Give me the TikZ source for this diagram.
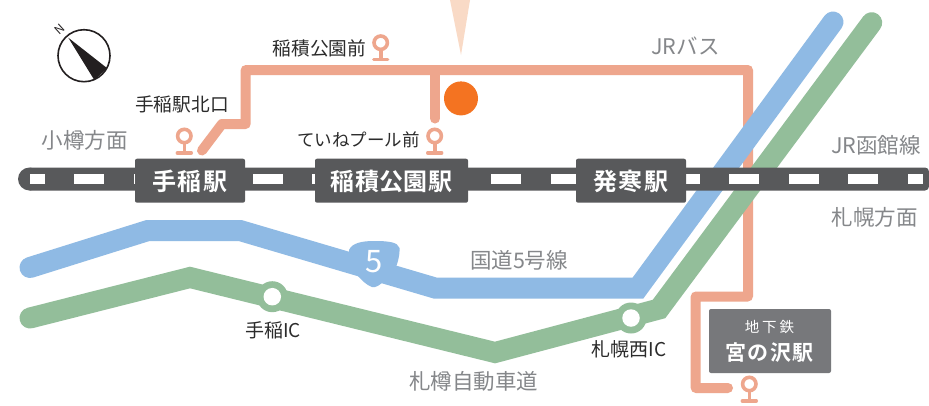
\documentclass[tikz,border=0pt]{standalone}
\usepackage{fontspec}
\setmainfont{Noto Sans CJK JP}
\newfontfamily\stfont[LetterSpace=8]{Noto Sans CJK JP Bold}
\newfontfamily\stfontn[LetterSpace=1.5]{Noto Sans CJK JP Bold}
\newfontfamily\stfontm[LetterSpace=5]{Noto Sans CJK JP Bold}
\newfontfamily\subfont[LetterSpace=20]{Noto Sans CJK JP}
\usetikzlibrary{calc}
\definecolor{busc}{HTML}{EEA68D}
\definecolor{roadc}{HTML}{8FBAE4}
\definecolor{expc}{HTML}{93BE9A}
\definecolor{railc}{HTML}{58595B}
\definecolor{metroc}{HTML}{77787B}
\definecolor{grayt}{HTML}{85878A}
\definecolor{darkt}{HTML}{2B2B2B}
\definecolor{spotc}{HTML}{F47321}
\definecolor{conec}{HTML}{F9DAC6}
\definecolor{compc}{HTML}{231F20}
\tikzset{
  busline/.style={draw=busc,line width=10pt,line join=round,line cap=round},
  roadline/.style={draw=roadc,line width=21pt,line join=miter,line cap=round},
  expline/.style={draw=expc,line width=21pt,line join=miter,line cap=round},
  stbox/.style={fill=railc,rounded corners=2pt},
  sttext/.style={text=white,inner sep=0pt,font=\stfont\fontsize{24}{24}\selectfont},
  lab/.style={text=darkt,inner sep=0pt,font=\fontsize{#1}{#1}\selectfont},
  glab/.style={text=grayt,inner sep=0pt,font=\fontsize{#1}{#1}\selectfont},
}
\newcommand{\pinmark}[2]{%
  \draw[busc,line width=3.6pt] (#1,#2) circle (6.7pt);
  \draw[busc,line width=3.6pt] (#1,#2+6) -- (#1,#2+16);
  \draw[busc,line width=3.4pt,line cap=round] (#1-7,#2+16.8) -- (#1+7,#2+16.8);
}
\newcommand{\icmark}[3]{%
  \node[circle,fill=expc,minimum size=31pt,inner sep=0pt] (#3) at (#1,#2) {};
  \node[circle,fill=white,minimum size=17.5pt,inner sep=0pt] (#3w) at (#1,#2) {};
}
\begin{document}
\begin{tikzpicture}[x=1pt,y=-1pt]
\useasboundingbox (0,0) rectangle (929,405);
\fill[white] (0,0) rectangle (929,405);
% coordinates
\coordinate (b1) at (202,150.5);
\coordinate (b2) at (222,124);
\coordinate (b3) at (245.7,124);
\coordinate (b4) at (245.7,70);
\coordinate (b5) at (748,70);
\coordinate (b6) at (748,296.5);
\coordinate (b7) at (695.7,296.5);
\coordinate (b8) at (695.7,388);
\coordinate (b9) at (728,388);
\coordinate (bj) at (435,70);
\coordinate (bk) at (435,118.5);
% cone, spot
\fill[conec] (450,0) -- (470,0) -- (461,55) -- cycle;
\draw[busline] (b1) -- (b2) -- (b3) -- (b4) -- (b5) -- (b6) -- (b7) -- (b8) -- (b9);
\draw[busline] (bj) -- (bk);
\node[circle,fill=spotc,minimum size=34pt,inner sep=0pt] (spot) at (461,98.4) {};
% road 5
\draw[roadline] (30,267.5) -- (148,230.5) -- (240,230.5) -- (435,288) -- (638,288) -- (833,22);
% expressway
\draw[expline] (30,318) -- (190,277.5) -- (495,352.5) -- (659,309) -- (871.7,22.7);
% road badge
\fill[roadc] (349,250) .. controls (352,243) and (362,241) .. (374,241) .. controls (388,241) and (398,242) .. (399.5,248)
  .. controls (400,256) and (397,266) .. (393,274) -- (385,280) .. controls (380,285) and (376,288) .. (372,287)
  .. controls (366,285) and (362,280) .. (358,276) .. controls (354,268) and (349,258) .. (349,250) -- cycle;
\node[text=white,inner sep=0pt,font=\fontsize{31}{31}\selectfont] (five) at (374,262) {5};
% IC
\icmark{272.3}{296.7}{ica}
\icmark{631}{318}{icb}
% rail
\fill[railc,rounded corners=4pt] (29.5,167.5) -- (929,167.5) -- (929,190.5) -- (29.5,190.5);
\fill[railc] (29.5,179) circle (11.5pt);
\foreach \x in {74,133.5,193,252.6,312,371.5,431,491,550.5,610,669.5,729,788.5,848} {
  \fill[white] (\x,174.2) rectangle (\x+30,184.2);
}
\fill[white] (30,174.2) rectangle (45,184.2);
\fill[white] (908,174.2) rectangle (923,184.2);
% stations
\fill[stbox] (135,158.7) rectangle (245,202.7);
\fill[stbox] (315,158.7) rectangle (468,202.7);
\fill[stbox] (576,158.7) rectangle (686,202.7);
\node[sttext] (s1) at (190,181) {手稲駅};
\node[sttext,font=\stfontn\fontsize{24}{24}\selectfont] (s2) at (391.5,181) {稲積公園駅};
\node[sttext] (s3) at (631,181) {発寒駅};
% metro
\fill[metroc,rounded corners=2pt] (709,309) rectangle (831,373);
\node[text=white,inner sep=0pt,font=\subfont\fontsize{14.5}{14.5}\selectfont] (m1) at (769.5,327) {地下鉄};
\node[sttext,font=\stfontm\fontsize{21}{21}\selectfont] (m2) at (769.5,353) {宮の沢駅};
% pins
\pinmark{380.7}{42.7}
\pinmark{184.3}{136}
\pinmark{434.7}{136}
\pinmark{749.3}{384}
% labels
\node[lab=18.7] (l1) at (319.5,48.7) {稲積公園前};
\node[lab=18.7] (l2) at (182,104.7) {手稲駅北口};
\node[lab=17.5] (l3) at (358.5,140) {ていねプール前};
\node[lab=19] (l4) at (273,330) {手稲IC};
\node[lab=19] (l5) at (629,349) {札幌西IC};
\node[glab=21.5] (g1) at (84.5,140) {小樽方面};
\node[glab=21.5] (g2) at (685.5,46) {JRバス};
\node[glab=21.5] (g3) at (876,145.7) {JR函館線};
\node[glab=21.5] (g4) at (874.5,217) {札幌方面};
\node[glab=21.5] (g5) at (519,260.7) {国道5号線};
\node[glab=21.5] (g6) at (473.5,381.7) {札樽自動車道};
% compass
\draw[compc,line width=1.6pt] (84,55.7) circle (26pt);
\fill[compc] (68.3,37.7) -- (107.3,68.3) -- (94.3,80) -- cycle;
\node[text=compc,inner sep=0pt,rotate=42,font=\fontsize{12}{12}\selectfont] (north) at (60,29.5) {N};
\end{tikzpicture}
\end{document}
